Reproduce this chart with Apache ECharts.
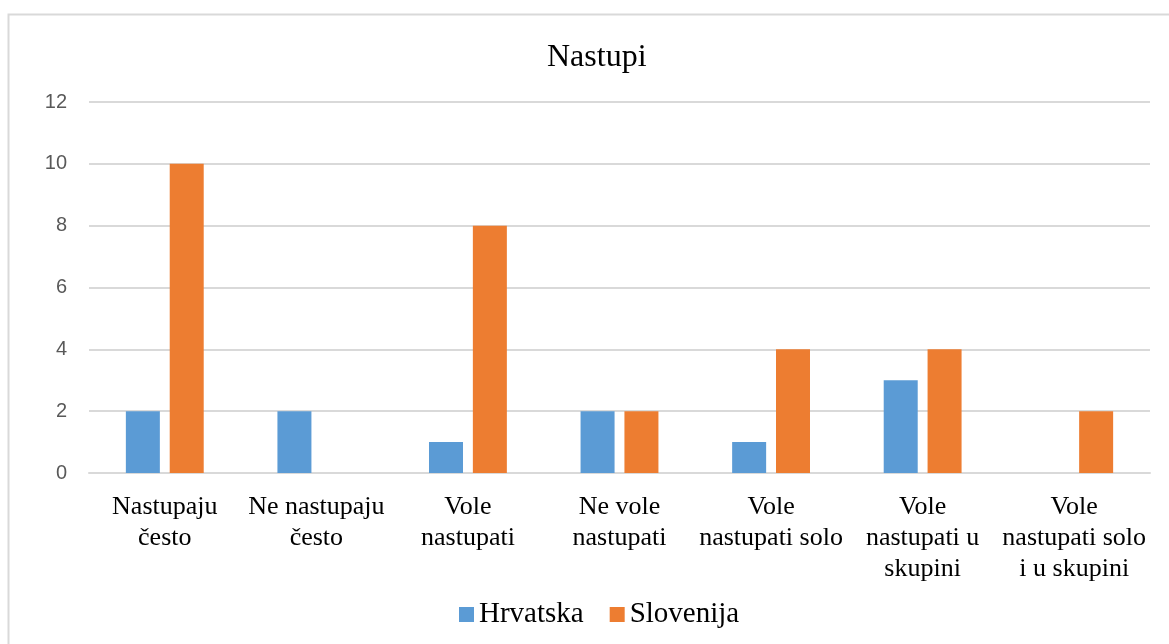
<!DOCTYPE html>
<html>
<head>
<meta charset="utf-8">
<script src="https://cdn.jsdelivr.net/npm/echarts@6/dist/echarts.min.js"></script>
<style>
  html, body { margin: 0; padding: 0; background: #fff; }
  #chart { width: 1169px; height: 644px; }
</style>
</head>
<body>
<div id="chart"></div>
<script>
const categories = [
  "Nastupaju\nčesto",
  "Ne nastupaju\nčesto",
  "Vole\nnastupati",
  "Ne vole\nnastupati",
  "Vole\nnastupati solo",
  "Vole\nnastupati u\nskupini",
  "Vole\nnastupati solo\ni u skupini",
];
const hrvatska = [2, 2, 1, 2, 1, 3, 0];
const slovenija = [10, 0, 8, 2, 4, 4, 2];

const serif = "'Liberation Serif', 'DejaVu Serif', serif";

const chart = echarts.init(document.getElementById("chart"));
chart.setOption({
  animation: false,
  title: {
    text: "Nastupi",
    left: 542,
    top: 37,
    textStyle: { fontFamily: serif, fontSize: 32, fontWeight: "normal", color: "#000" },
  },
  graphic: [
    {
      type: "rect",
      shape: { x: 8.5, y: 14.5, width: 1300, height: 800 },
      style: { fill: "none", stroke: "#d9d9d9", lineWidth: 2 },
      silent: true,
    },
  ],
  grid: { left: 89, right: 19, top: 102, bottom: 171 },
  legend: {
    bottom: 10,
    left: 454,
    itemWidth: 15,
    itemHeight: 15,
    itemGap: 26,
    icon: "rect",
    textStyle: { fontFamily: serif, fontSize: 29, color: "#000" },
    data: ["Hrvatska", "Slovenija"],
  },
  xAxis: {
    type: "category",
    data: categories,
    axisTick: { show: false },
    axisLine: { lineStyle: { color: "#d9d9d9", width: 2 } },
    axisLabel: {
      interval: 0,
      margin: 19,
      fontFamily: serif,
      fontSize: 26,
      lineHeight: 31,
      color: "#000",
    },
  },
  yAxis: {
    type: "value",
    min: 0,
    max: 12,
    interval: 2,
    axisLabel: {
      margin: 22,
      fontFamily: "'Liberation Sans', Arial, sans-serif",
      fontSize: 20,
      color: "#595959",
    },
    splitLine: { lineStyle: { color: "#d9d9d9", width: 2 } },
  },
  series: [
    {
      name: "Hrvatska",
      type: "bar",
      data: hrvatska,
      barWidth: 34,
      barGap: "29%",
      itemStyle: { color: "#5B9BD5" },
    },
    {
      name: "Slovenija",
      type: "bar",
      data: slovenija,
      barWidth: 34,
      barGap: "29%",
      itemStyle: { color: "#ED7D31" },
    },
  ],
});
</script>
</body>
</html>
